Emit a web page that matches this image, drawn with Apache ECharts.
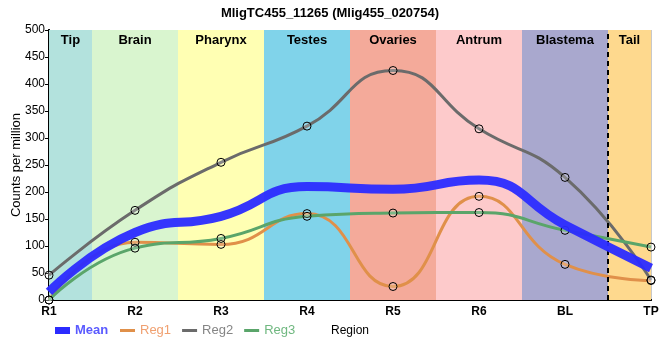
<!DOCTYPE html>
<html><head><meta charset="utf-8">
<script src="https://cdn.jsdelivr.net/npm/echarts@6/dist/echarts.min.js"></script>
<style>html,body{margin:0;padding:0;background:#fff}#c{width:660px;height:360px}</style>
</head><body><div id="c"></div>
<script>
const categories = ['R1','R2','R3','R4','R5','R6','BL','TP'];
const meanVals = [15, 125, 155, 210, 205, 222, 139, 59];
const reg1Vals = [0, 107, 103, 160, 25, 192, 66, 36];
const reg2Vals = [46, 166, 255, 322, 425, 317, 227, 37];
const reg3Vals = [0, 96, 114, 155, 161, 162, 129, 98];
const regionNames = ['Tip','Brain','Pharynx','Testes','Ovaries','Antrum','Blastema','Tail'];
const regionStarts = [0, 0.5, 1.5, 2.5, 3.5, 4.5, 5.5, 6.5];
const regionEnds = [0.5, 1.5, 2.5, 3.5, 4.5, 5.5, 6.5, 7];
const regionColors = ['#b3e2dd','#d9f5cf','#ffffb3','#80d3ea','#f4aa9a','#fdcacb','#a9a8ce','#fed98e'];
const tailLine = 6.5;

const toPts = arr => arr.map((v,i)=>[i,v]);
const font = 'Liberation Sans, Arial, sans-serif';
const chart = echarts.init(document.getElementById('c'), null, {renderer:'canvas'});

const bands = regionNames.map((n,i)=>[
  {name:n, xAxis:regionStarts[i], itemStyle:{color:regionColors[i], opacity:1}},
  {xAxis:regionEnds[i]}
]);

chart.setOption({
  animation:false,
  textStyle:{fontFamily:font},
  title:{text:'MligTC455_11265 (Mlig455_020754)', left:'center', top:2,
    textStyle:{fontSize:13, fontWeight:'bold', color:'#000', fontFamily:font}},
  grid:{left:49, right:9, top:30, bottom:60, outerBoundsMode:'none', containLabel:false},
  xAxis:[{type:'value', min:0, max:7, interval:1,
    name:'Region', nameLocation:'middle', nameGap:25, nameMoveOverlap:false,
    nameTextStyle:{color:'#000', fontSize:12, fontFamily:font},
    axisLine:{lineStyle:{color:'#000', width:2}}, axisTick:{show:false},
    axisLabel:{formatter:v=>categories[v]||'', color:'#000', fontWeight:'bold', fontSize:12, margin:6, fontFamily:font},
    splitLine:{show:true, lineStyle:{color:'#c8c8c8', width:1}}},
    {type:'value', position:'top', min:0, max:7, axisLine:{show:true, lineStyle:{color:'#000', width:2}},
     axisTick:{show:false}, axisLabel:{show:false}, splitLine:{show:false}}],
  yAxis:[{type:'value', min:0, max:500, interval:50,
    name:'Counts per million', nameLocation:'middle', nameGap:26, nameMoveOverlap:false,
    nameTextStyle:{color:'#000', fontSize:13, fontFamily:font},
    axisLine:{show:true, lineStyle:{color:'#000', width:2}}, axisTick:{show:true, length:4, lineStyle:{color:'#000'}},
    axisLabel:{color:'#000', fontSize:12, margin:4, fontFamily:font},
    splitLine:{show:true, lineStyle:{color:'#c8c8c8', width:1}}},
    {type:'value', position:'right', min:0, max:500, axisLine:{show:true, lineStyle:{color:'#000', width:2}},
     axisTick:{show:false}, axisLabel:{show:false}, splitLine:{show:false}}],
  legend:[{left:55, top:324, padding:0, itemWidth:15, itemHeight:7, itemGap:8,
      data:[{name:'Mean', icon:'rect', itemStyle:{color:'#2b2bff', borderWidth:0}, textStyle:{color:'#5a5aff'}}],
      textStyle:{fontSize:13, fontFamily:font, fontWeight:'bold'}},
    {left:120, top:324, padding:0, itemWidth:15, itemHeight:3, itemGap:11,
      data:[{name:'Reg1', icon:'rect', itemStyle:{color:'#e0904a', borderWidth:0}, textStyle:{color:'#f0a070'}},
            {name:'Reg2', icon:'rect', itemStyle:{color:'#6b6b6b', borderWidth:0}, textStyle:{color:'#858585'}},
            {name:'Reg3', icon:'rect', itemStyle:{color:'#5aa56a', borderWidth:0}, textStyle:{color:'#70b880'}}],
      textStyle:{fontSize:13, fontFamily:font}}],
  series:[
    {name:'bands', type:'line', data:[], silent:true,
      markArea:{silent:true, label:{show:true, position:'insideTop', distance:4, color:'#000', fontWeight:'bold', fontSize:13, fontFamily:font},
        data:bands},
      markLine:{silent:true, symbol:'none', label:{show:false},
        lineStyle:{color:'#000', type:[5,4], width:2}, data:[{xAxis:tailLine}]}},
    {name:'Mean', type:'line', data:toPts(meanVals), smooth:0.5, showSymbol:false, z:5,
      lineStyle:{color:'#2b2bff', width:9, opacity:0.95}, itemStyle:{color:'#2b2bff'}},
    {name:'Reg1', type:'line', data:toPts(reg1Vals), smooth:0.5, symbol:'circle', symbolSize:8, z:4,
      lineStyle:{color:'#e0904a', width:3}, itemStyle:{color:'rgba(255,255,255,0.2)', borderColor:'#000', borderWidth:1}},
    {name:'Reg2', type:'line', data:toPts(reg2Vals), smooth:0.5, symbol:'circle', symbolSize:8, z:4,
      lineStyle:{color:'#6b6b6b', width:3}, itemStyle:{color:'rgba(255,255,255,0.2)', borderColor:'#000', borderWidth:1}},
    {name:'Reg3', type:'line', data:toPts(reg3Vals), smooth:0.5, symbol:'circle', symbolSize:8, z:4,
      lineStyle:{color:'#5aa56a', width:3}, itemStyle:{color:'rgba(255,255,255,0.2)', borderColor:'#000', borderWidth:1}}
  ]
});
</script></body></html>
